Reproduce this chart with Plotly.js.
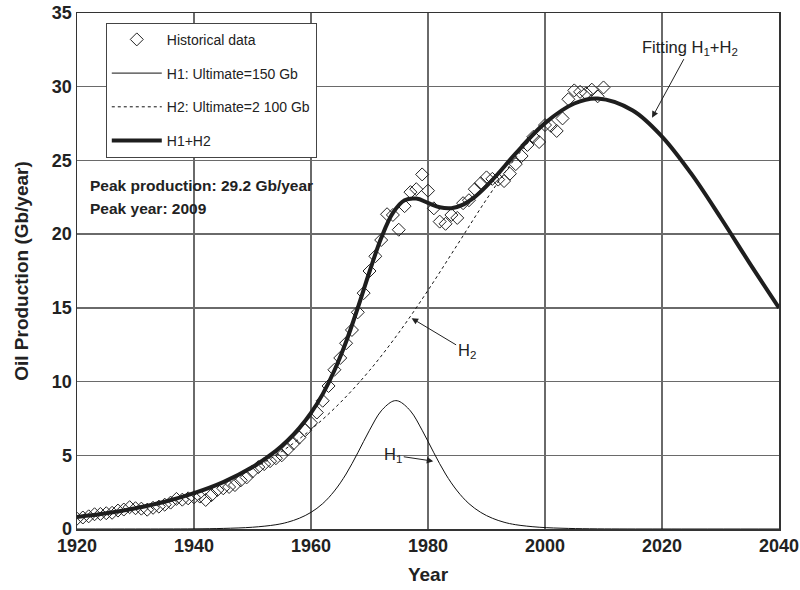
<!DOCTYPE html>
<html>
<head>
<meta charset="utf-8">
<script src="https://cdn.plot.ly/plotly-3.0.1.min.js"></script>
<style>html,body{margin:0;padding:0;background:#fff;}#chart{width:800px;height:590px;}</style>
</head>
<body>
<div id="chart"></div>
<script>
// Historical data (Gb/year)
const histYears = [1920,1921,1922,1923,1924,1925,1926,1927,1928,1929,1930,1931,1932,1933,1934,1935,1936,1937,1938,1939,
  1940,1941,1942,1943,1944,1945,1946,1947,1948,1949,1950,1951,1952,1953,1954,1955,1956,1957,1958,1959,
  1960,1961,1962,1963,1964,1965,1966,1967,1968,1969,1970,1971,1972,1973,1974,1975,1976,1977,1978,1979,
  1980,1981,1982,1983,1984,1985,1986,1987,1988,1989,1990,1991,1992,1993,1994,1995,1996,1997,1998,1999,
  2000,2001,2002,2003,2004,2005,2006,2007,2008,2009,2010];
const histValues = [0.70,0.78,0.86,1.00,1.02,1.07,1.10,1.25,1.32,1.48,1.41,1.38,1.31,1.44,1.52,1.65,1.79,2.04,1.99,2.08,
  2.15,2.20,1.97,2.30,2.65,2.76,2.85,2.98,3.30,3.50,3.90,4.20,4.40,4.60,4.80,5.00,5.40,5.80,6.20,6.70,
  7.20,7.90,8.70,9.70,10.80,11.60,12.60,13.50,14.70,16.00,17.50,18.50,19.60,21.35,21.30,20.30,21.90,22.85,23.05,24.05,
  22.95,21.75,20.85,20.70,21.30,21.10,22.10,22.30,23.05,23.45,23.85,23.75,23.70,23.60,24.10,24.75,25.30,26.05,26.60,26.25,
  27.40,27.35,27.00,27.85,29.15,29.75,29.65,29.55,29.80,29.35,29.95];

// H1 curve (Ultimate = 150 Gb)
const h1Years = [1920,1930,1940,1945,1950,1954,1956,1958,1960,1962,1964,1966,1968,1970,1972,1974,1975,1977,1979,
  1981,1983,1985,1987,1989,1991,1993,1995,1999,2004,2009,2020,2040];
const h1Values = [0,0.001,0.01,0.04,0.12,0.29,0.46,0.73,1.13,1.72,2.58,3.73,5.17,6.70,8.01,8.67,8.67,8.01,6.70,
  5.17,3.73,2.58,1.72,1.13,0.73,0.46,0.29,0.12,0.04,0.01,0.001,0];

// H2 curve (Ultimate = 2 100 Gb)
const h2Years = [1920,1925,1930,1935,1940,1945,1950,1955,1960,1965,1970,1975,1980,1985,1990,1995,2000,2005,2009,
  2015,2020,2025,2030,2035,2040];
const h2Values = [0.82,1.07,1.41,1.85,2.41,3.15,4.08,5.26,6.75,8.57,10.75,13.31,16.19,19.27,22.36,25.18,27.44,28.83,29.19,
  28.39,26.62,24.10,21.13,18.02,15.00];

// H1+H2 fit
const fitYears = [1920,1925,1930,1935,1940,1945,1950,1954,1956,1958,1960,1962,1964,1966,1968,1970,1972,1974,1976,1978,
  1980,1982,1984,1986,1988,1990,1992,1995,2000,2005,2009,2015,2020,2025,2030,2035,2040];
const fitValues = [0.82,1.07,1.41,1.85,2.43,3.18,4.20,5.30,6.00,6.84,7.87,9.15,10.75,12.70,15.00,17.45,19.74,21.44,22.30,22.41,
  22.12,21.82,21.76,22.00,22.53,23.26,24.11,25.48,27.53,28.86,29.20,28.39,26.62,24.10,21.13,18.02,15.00];

const legendNames = ['Historical data','H1: Ultimate=150 Gb','H2: Ultimate=2 100 Gb','H1+H2'];
const xTicks = [1920,1940,1960,1980,2000,2020,2040];
const yTicks = [0,5,10,15,20,25,30,35];

const FONT = 'Arial, "Liberation Sans", Helvetica, sans-serif';
const INK = '#222';

const traces = [
  {x: h1Years, y: h1Values, type:'scatter', mode:'lines', name: legendNames[1], legendrank: 2, legendgroup:'b',
   line:{color:'#111', width:1, shape:'spline'}},
  {x: h2Years, y: h2Values, type:'scatter', mode:'lines', name: legendNames[2], legendrank: 3, legendgroup:'c',
   line:{color:'#111', width:1, dash:'dot', shape:'spline'}},
  {x: histYears, y: histValues, type:'scatter', mode:'markers', name: legendNames[0], legendrank: 1, legendgroup:'a',
   marker:{symbol:'diamond-open', size:10, color:'#222', line:{width:1, color:'#222'}}},
  {x: fitYears, y: fitValues, type:'scatter', mode:'lines', name: legendNames[3], legendrank: 4, legendgroup:'d',
   line:{color:'#1e1e1e', width:4, shape:'spline'}}
];

const layout = {
  width: 800, height: 590,
  margin: {l:77, r:21, t:13, b:61},
  paper_bgcolor:'#fff', plot_bgcolor:'#fff',
  font:{family: FONT, color: INK},
  showlegend: true,
  legend: {
    x: 0.041, y: 0.981, xanchor:'left', yanchor:'top',
    bgcolor:'#fff', bordercolor:'#444', borderwidth:1,
    font:{family: FONT, size:14, color:INK},
    tracegroupgap: 12.5, traceorder:'grouped',
    itemwidth: 50
  },
  xaxis: {
    range:[1920,2040], tickvals: xTicks, ticktext: xTicks.map(String),
    showgrid:true, gridcolor:'#6a6a6a', gridwidth:1.3,
    showline:true, linecolor:'#333', linewidth:1.5, mirror:true,
    ticks:'', zeroline:false,
    tickfont:{family: FONT, size:18, color:INK, weight:'bold'},
    title:{text:'<b>Year</b>', font:{family:FONT, size:19, color:INK}, standoff:12}
  },
  yaxis: {
    range:[0,35], tickvals: yTicks, ticktext: yTicks.map(String),
    showgrid:true, gridcolor:'#6a6a6a', gridwidth:1.3,
    showline:true, linecolor:'#333', linewidth:1.5, mirror:true,
    ticks:'', zeroline:false,
    tickfont:{family: FONT, size:18, color:INK, weight:'bold'},
    title:{text:'<b>Oil Production (Gb/year)</b>', font:{family:FONT, size:19, color:INK}, standoff:18}
  },
  annotations: [
    {xref:'paper', yref:'paper', x:0.016, y:0.665, xanchor:'left', yanchor:'middle', showarrow:false,
     text:'<b>Peak production: 29.2 Gb/year</b>', font:{family:FONT, size:15.5, color:INK}},
    {xref:'paper', yref:'paper', x:0.016, y:0.622, xanchor:'left', yanchor:'middle', showarrow:false,
     text:'<b>Peak year: 2009</b>', font:{family:FONT, size:15.5, color:INK}},
    {x:2018.3, y:27.9, xref:'x', yref:'y', text:'Fitting H<sub>1</sub>+H<sub>2</sub>', showarrow:true,
     arrowhead:2, arrowsize:1.3, arrowwidth:1, arrowcolor:'#222', ax:38, ay:-70,
     font:{family:FONT, size:16.5, color:INK}},
    {x:1977.2, y:14.3, xref:'x', yref:'y', text:'H<sub>2</sub>', showarrow:true,
     arrowhead:2, arrowsize:1.3, arrowwidth:1, arrowcolor:'#222', ax:55, ay:33,
     font:{family:FONT, size:16.5, color:INK}},
    {x:1980.9, y:4.6, xref:'x', yref:'y', text:'H<sub>1</sub>', showarrow:true,
     arrowhead:2, arrowsize:1.3, arrowwidth:1, arrowcolor:'#222', ax:-40, ay:-6,
     font:{family:FONT, size:16.5, color:INK}}
  ]
};

Plotly.newPlot('chart', traces, layout, {displayModeBar:false, staticPlot:true});
</script>
</body>
</html>
